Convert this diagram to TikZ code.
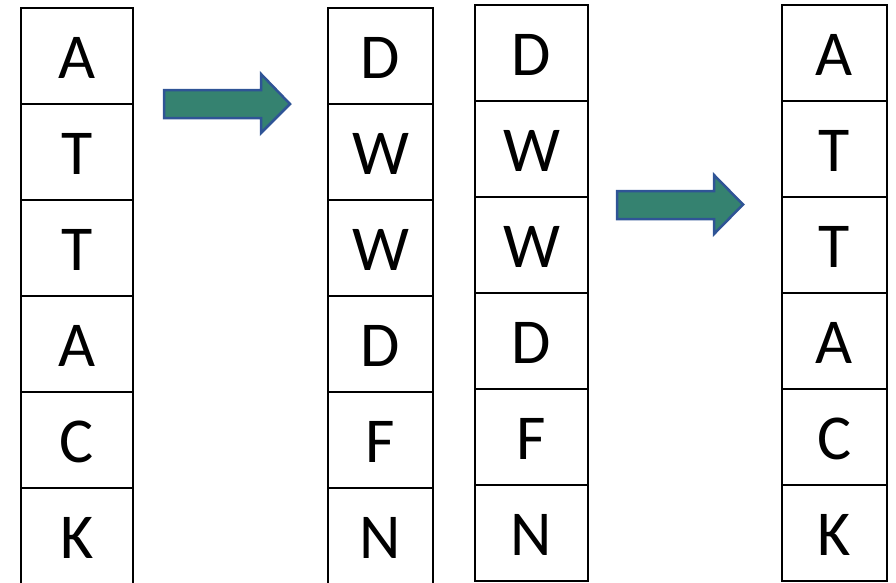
\documentclass[tikz,border=0pt]{standalone}
\usepackage{fontspec}
\setmainfont{Carlito}
\definecolor{arrowfill}{HTML}{358270}
\definecolor{arrowline}{HTML}{2F5496}
\begin{document}
\begin{tikzpicture}[x=1pt,y=-1pt,
  cell/.style={draw=black,line width=2.6pt,rectangle,inner sep=0pt,
    minimum height=96pt,text height=44pt,text depth=0pt,font=\fontsize{64}{64}\selectfont},
  blockarrow/.style={fill=arrowfill,draw=arrowline,line width=2.5pt,line join=miter}]
\useasboundingbox (0,0) rectangle (896,582);
% column 1
\foreach \t [count=\i] in {A,T,T,A,C,K}{
  \node[cell,minimum width=112pt] (a\i) at (77,{8+96*(\i-0.5)}) {\t};
}
% column 2
\foreach \t [count=\i] in {D,W,W,D,F,N}{
  \node[cell,minimum width=105pt] (b\i) at (380.5,{8+96*(\i-0.5)}) {\t};
}
% column 3
\foreach \t [count=\i] in {D,W,W,D,F,N}{
  \node[cell,minimum width=113pt] (c\i) at (531.5,{5+96*(\i-0.5)}) {\t};
}
% column 4
\foreach \t [count=\i] in {A,T,T,A,C,K}{
  \node[cell,minimum width=105pt] (d\i) at (834.5,{5+96*(\i-0.5)}) {\t};
}
% arrows
\draw[blockarrow] (164,90) -- (261,90) -- (261,74) -- (290,104) -- (261,133) -- (261,118) -- (164,118) -- cycle;
\draw[blockarrow] (617,191) -- (714,191) -- (714,175) -- (743,204.5) -- (714,234) -- (714,219) -- (617,219) -- cycle;
\end{tikzpicture}
\end{document}
